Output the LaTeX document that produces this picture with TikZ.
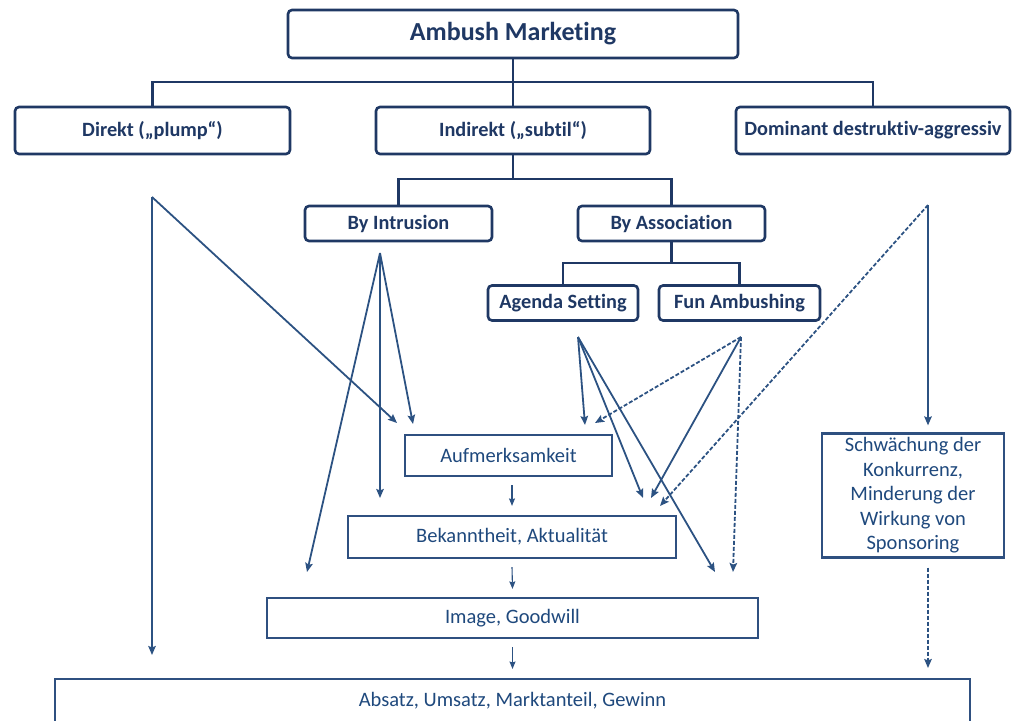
\documentclass[tikz,border=0pt]{standalone}
\usepackage{fontspec}
\setmainfont{Carlito}[Ligatures=NoCommon]
\usetikzlibrary{arrows.meta}
\definecolor{navy}{HTML}{1F3864}
\definecolor{linec}{HTML}{2C5282}
\definecolor{boxc}{HTML}{2F5080}
\definecolor{txtc}{HTML}{1F497D}
\begin{document}
\begin{tikzpicture}[x=1pt,y=-1pt,
  topbox/.style={draw=navy,line width=2.6pt,rounded corners=4pt,fill=white,inner sep=0pt,text=navy,font=\bfseries\fontsize{20.3}{23}\selectfont},
  lowbox/.style={draw=boxc,line width=2.2pt,fill=white,inner sep=0pt,text=txtc,font=\fontsize{20.5}{24.5}\selectfont,align=center},
  tree/.style={draw=navy,line width=2.4pt},
  arr/.style={draw=linec,line width=1.8pt,-{Stealth[length=9pt,width=7.5pt,inset=1.5pt]}},
  darr/.style={arr,dash pattern=on 4pt off 2pt},
  sarr/.style={draw=linec,line width=1.1pt,-{Stealth[length=7.5pt,width=6pt,inset=1pt]}}]
\useasboundingbox (0,0) rectangle (1014,720);
% top level boxes
\node[topbox,minimum width=450pt,minimum height=48pt,font=\bfseries\fontsize{26}{29}\selectfont] (am) at (513,34) {Ambush Marketing};
\node[topbox,minimum width=275pt,minimum height=47pt] (dir) at (152.5,130.5) {Direkt („plump“)};
\node[topbox,minimum width=274pt,minimum height=47pt] (ind) at (513,130.5) {Indirekt („subtil“)};
\node[topbox,minimum width=274pt,minimum height=47pt] (dom) at (873,130.5) {Dominant destruktiv-aggressiv};
\node[topbox,minimum width=187pt,minimum height=35pt] (intr) at (398.5,223.5) {By Intrusion};
\node[topbox,minimum width=187pt,minimum height=35pt] (assoc) at (671.5,223.5) {By Association};
\node[topbox,minimum width=150pt,minimum height=35pt] (agenda) at (563,303) {Agenda Setting};
\node[topbox,minimum width=161pt,minimum height=35pt] (fun) at (739.5,303) {Fun Ambushing};
% effect boxes
\node[lowbox,minimum width=207pt,minimum height=41pt] (aufm) at (508.5,455.5) {Aufmerksamkeit};
\node[lowbox,minimum width=328pt,minimum height=42pt] (bek) at (512,537) {Bekanntheit, Aktualität};
\node[lowbox,minimum width=491pt,minimum height=40pt] (img) at (512.5,618) {Image, Goodwill};
\node[lowbox,minimum width=915pt,minimum height=46pt,anchor=north] (abs) at (512.5,678) {};
\node[text=txtc,font=\fontsize{20.5}{24.5}\selectfont] (abst) at (512.5,700.5) {Absatz, Umsatz, Marktanteil, Gewinn};
\node[lowbox,minimum width=182pt,minimum height=124pt] (schw) at (913,495.5) {Schwächung der\\Konkurrenz,\\Minderung der\\Wirkung von\\Sponsoring};
% tree connectors
\coordinate (j1) at (513,82);
\draw[tree] (am.south) -- (j1);
\draw[tree] (dir.north) |- (j1) -| (dom.north);
\draw[tree] (j1) -- (ind.north);
\coordinate (j2) at (513,179);
\draw[tree] (ind.south) -- (j2);
\draw[tree] (intr.north) |- (j2) -| (assoc.north);
\coordinate (j3) at (671.5,263);
\draw[tree] (assoc.south) -- (j3);
\draw[tree] (agenda.north) |- (j3) -| (fun.north);
% arrow origins
\coordinate (oDir) at (152,197);
\coordinate (oIntr) at (380,253);
\coordinate (oAg) at (578,337);
\coordinate (oFun) at (741,337);
\coordinate (oDom) at (928,205);
% arrow ends
\coordinate (tA1) at (397,423);
\coordinate (tA2) at (413,424);
\coordinate (tA3) at (585,425);
\coordinate (tA4) at (595,423);
\coordinate (tB0) at (380,498);
\coordinate (tB1) at (643,498);
\coordinate (tB2) at (651,498);
\coordinate (tB3) at (660,506);
\coordinate (tI0) at (307,572);
\coordinate (tI1) at (715,572);
\coordinate (tI2) at (733,572);
\coordinate (tG0) at (152,655);
% Direkt
\draw[arr] (oDir) -- (tG0);
\draw[arr] (oDir) -- (tA1);
% By Intrusion
\draw[arr] (oIntr) -- (tA2);
\draw[arr] (oIntr) -- (tB0);
\draw[arr] (oIntr) -- (tI0);
% Agenda Setting
\draw[arr] (oAg) -- (tA3);
\draw[arr] (oAg) -- (tB1);
\draw[arr] (oAg) -- (tI1);
% Fun Ambushing
\draw[darr] (oFun) -- (tA4);
\draw[arr] (oFun) -- (tB2);
\draw[darr] (oFun) -- (tI2);
% Dominant
\draw[arr] (oDom) -- ([yshift=7pt]schw.north -| oDom);
\draw[darr] (oDom) -- (tB3);
\coordinate (sEnd) at (928,668);
\draw[darr] ([yshift=-9pt]schw.south -| oDom) -- (sEnd);
% small arrows between boxes
\draw[sarr] ([yshift=-8pt]aufm.south -| bek.north) -- ([yshift=9pt]bek.north);
\draw[sarr] ([yshift=-8pt]bek.south) -- ([yshift=8pt]img.north);
\draw[sarr] ([yshift=-8pt]img.south) -- ([yshift=9pt]abs.north -| img.south);
\end{tikzpicture}
\end{document}
